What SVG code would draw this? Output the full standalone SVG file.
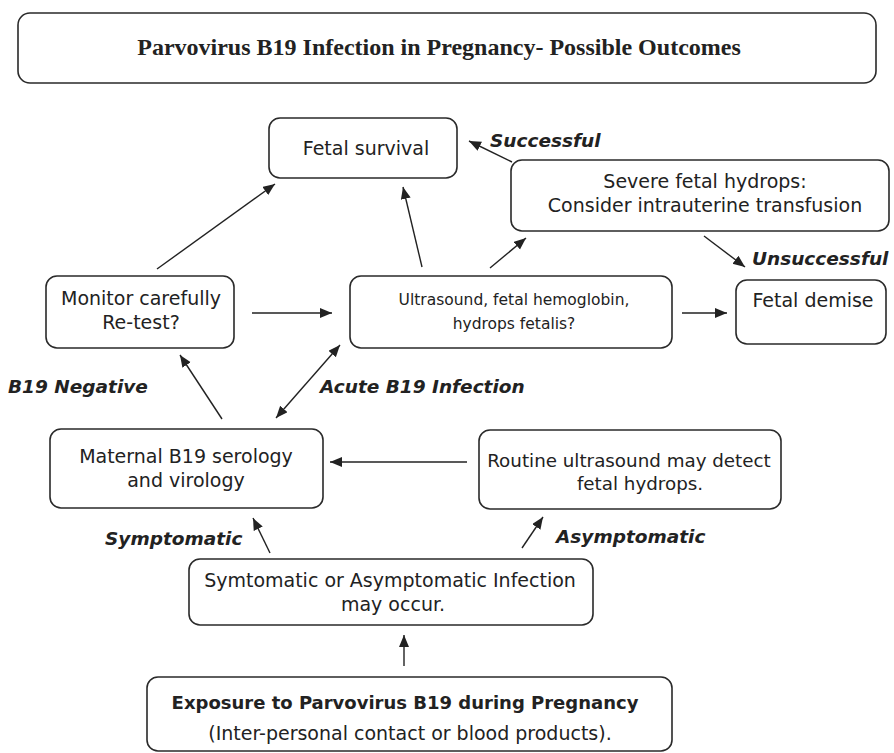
<svg xmlns="http://www.w3.org/2000/svg" width="894" height="753" viewBox="0 0 894 753">
<style>
.box{fill:#fff;stroke:#2a2a2a;stroke-width:1.6}
.t{font-family:"DejaVu Sans","Noto Sans",sans-serif;font-size:19px;fill:#222;text-anchor:middle}
.s{font-size:15.5px}
.r{font-size:18.3px}
.b{font-weight:bold;font-size:18px}
.lbl{font-family:"DejaVu Sans","Noto Sans",sans-serif;font-size:18.5px;font-weight:bold;font-style:italic;fill:#222}
.title{font-family:"Liberation Serif","Times New Roman",serif;font-size:24px;font-weight:bold;fill:#222;text-anchor:middle}
.c{stroke:#222;stroke-width:1.4;fill:none;marker-end:url(#ah)}
</style>
<defs>
<marker id="ah" markerUnits="userSpaceOnUse" markerWidth="13" markerHeight="11" refX="12" refY="5" orient="auto-start-reverse">
<path d="M0,0 L12,5 L0,10 z" fill="#222"/>
</marker>
</defs>
<rect width="894" height="753" fill="#fff"/>
<g id="title">
<rect class="box" x="18" y="13" width="858" height="70" rx="12"/>
<text class="title" x="439" y="55">Parvovirus B19 Infection in Pregnancy- Possible Outcomes</text>
</g>
<g id="fetal-survival">
<rect class="box" x="269" y="118" width="188" height="60" rx="11"/>
<text class="t" x="366" y="155">Fetal survival</text>
</g>
<g id="severe-hydrops">
<rect class="box" x="511" y="160" width="378" height="71" rx="11"/>
<text class="t" x="705" y="188">Severe fetal hydrops:</text>
<text class="t" x="705" y="212">Consider intrauterine transfusion</text>
</g>
<g id="monitor">
<rect class="box" x="46" y="276" width="188" height="72" rx="11"/>
<text class="t" x="141" y="305">Monitor carefully</text>
<text class="t" x="141" y="329">Re-test?</text>
</g>
<g id="ultrasound">
<rect class="box" x="350" y="276" width="322" height="72" rx="11"/>
<text class="t s" x="514" y="305">Ultrasound, fetal hemoglobin,</text>
<text class="t s" x="514" y="329">hydrops fetalis?</text>
</g>
<g id="fetal-demise">
<rect class="box" x="736" y="280" width="150" height="64" rx="11"/>
<text class="t" x="813" y="307">Fetal demise</text>
</g>
<g id="maternal">
<rect class="box" x="50" y="429" width="273" height="79" rx="11"/>
<text class="t" x="186" y="463">Maternal B19 serology</text>
<text class="t" x="186" y="487">and virology</text>
</g>
<g id="routine">
<rect class="box" x="479" y="430" width="302" height="79" rx="11"/>
<text class="t r" x="629" y="467">Routine ultrasound may detect</text>
<text class="t r" x="640" y="490">fetal hydrops.</text>
</g>
<g id="infection">
<rect class="box" x="189" y="559" width="404" height="66" rx="11"/>
<text class="t" x="390" y="587">Symtomatic or Asymptomatic Infection</text>
<text class="t" x="393" y="611">may occur.</text>
</g>
<g id="exposure">
<rect class="box" x="147" y="677" width="525" height="74" rx="11"/>
<text class="t b" x="405" y="709">Exposure to Parvovirus B19 during Pregnancy</text>
<text class="t" x="410" y="740">(Inter-personal contact or blood products).</text>
</g>
<g id="labels">
<text class="lbl" x="490" y="147">Successful</text>
<text class="lbl" x="752" y="265">Unsuccessful</text>
<text class="lbl" x="8" y="393">B19 Negative</text>
<text class="lbl" x="320" y="393">Acute B19 Infection</text>
<text class="lbl" x="105" y="545">Symptomatic</text>
<text class="lbl" x="556" y="543">Asymptomatic</text>
</g>
<g id="connectors">
<line class="c" x1="157" y1="269" x2="275" y2="184"/>
<line class="c" x1="422" y1="267" x2="403" y2="187"/>
<line class="c" x1="512" y1="162" x2="469" y2="141"/>
<line class="c" x1="490" y1="268" x2="526" y2="238"/>
<line class="c" x1="704" y1="236" x2="745" y2="267"/>
<line class="c" x1="682" y1="313" x2="727" y2="313"/>
<line class="c" x1="252" y1="313" x2="332" y2="313"/>
<line class="c" x1="222" y1="419" x2="180" y2="355"/>
<line class="c" x1="276" y1="418" x2="340" y2="345" style="marker-start:url(#ah)"/>
<line class="c" x1="467" y1="462" x2="330" y2="462"/>
<line class="c" x1="270" y1="553" x2="253" y2="518"/>
<line class="c" x1="522" y1="548" x2="543" y2="517"/>
<line class="c" x1="404" y1="666" x2="404" y2="635"/>
</g>
</svg>
